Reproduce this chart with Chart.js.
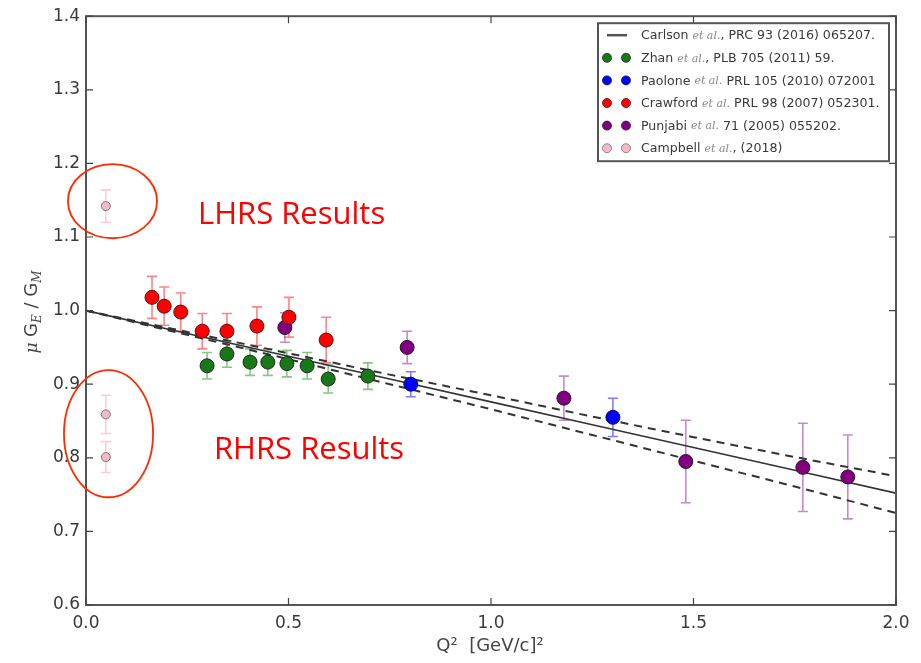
<!DOCTYPE html>
<html>
<head>
<meta charset="utf-8">
<script src="https://cdn.jsdelivr.net/npm/chart.js@4.4.1/dist/chart.umd.min.js"></script>
<style>
  body { margin: 0; background: #fff; }
  canvas { display: block; }
</style>
</head>
<body>
<canvas id="ffChart" width="921" height="663"></canvas>
<script>
//=============================
// DATA
//=============================

// Carlson et al. curve with its band
const curveQ2 = [0, 0.25, 0.5, 0.75, 1.0, 1.25, 1.5, 1.75, 2.0];
const carlsonMid = [1.0, 0.969, 0.938, 0.907, 0.876, 0.845, 0.814, 0.783, 0.752];
const carlsonHi = [1.0, 0.971, 0.942, 0.913, 0.885, 0.856, 0.828, 0.801, 0.775];
const carlsonLo = [1.0, 0.967, 0.934, 0.900, 0.866, 0.831, 0.796, 0.761, 0.725];

const zhanQ2 = [0.299, 0.348, 0.405, 0.449, 0.496, 0.546, 0.598, 0.696];
const zhanR = [0.925, 0.941, 0.930, 0.930, 0.928, 0.925, 0.907, 0.911];
const zhanErr = [0.018, 0.018, 0.018, 0.018, 0.018, 0.018, 0.019, 0.018];

const paoloneQ2 = [0.802, 1.301];
const paoloneR = [0.900, 0.855];
const paoloneErr = [0.017, 0.026];

const crawfordQ2 = [0.163, 0.193, 0.234, 0.287, 0.348, 0.422, 0.501, 0.593];
const crawfordR = [1.018, 1.006, 0.998, 0.972, 0.972, 0.979, 0.991, 0.960];
const crawfordErr = [0.0285, 0.026, 0.026, 0.024, 0.024, 0.026, 0.027, 0.031];

const punjabiQ2 = [0.491, 0.793, 1.180, 1.481, 1.770, 1.881];
const punjabiR = [0.977, 0.950, 0.881, 0.795, 0.787, 0.774];
const punjabiErr = [0.020, 0.022, 0.030, 0.056, 0.060, 0.057];

const campbellQ2 = [0.049, 0.049, 0.049];
const campbellR = [1.142, 0.859, 0.801];
const campbellErr = [0.022, 0.026, 0.021];

const xTicks = [0, 0.5, 1.0, 1.5, 2.0];
const yTicks = [0.6, 0.7, 0.8, 0.9, 1.0, 1.1, 1.2, 1.3, 1.4];

//=============================
// HELPERS
//=============================

function pts(xs, ys){
    return xs.map((x,i)=>({x:x, y:ys[i]}));
}

function pointSet(label, xs, ys, errs, fill, errColor, radius, edge){
    return {
        label: label,
        data: pts(xs, ys),
        errors: errs,
        errColor: errColor,
        backgroundColor: fill,
        borderColor: edge,
        borderWidth: 1,
        pointRadius: radius,
        pointHoverRadius: radius,
        showLine: false,
        order: 1
    };
}

function curveSet(label, ys, dash, width, hide){
    return {
        label: label,
        data: pts(curveQ2, ys),
        showLine: true,
        borderColor: "#333",
        borderWidth: width,
        borderDash: dash,
        pointRadius: 0,
        fill: false,
        order: 5,
        noLegend: hide
    };
}

//=============================
// PLUGINS
//=============================

// error bars, under the markers
const errorBars = {
    id: "errorBars",
    beforeDatasetsDraw(chart){
        const ctx = chart.ctx;
        const xs = chart.scales.x, ys = chart.scales.y;
        chart.data.datasets.forEach(ds=>{
            if(!ds.errors) return;
            ctx.save();
            ctx.strokeStyle = ds.errColor;
            ctx.lineWidth = 1.6;
            ds.data.forEach((p,i)=>{
                const px = xs.getPixelForValue(p.x);
                const top = ys.getPixelForValue(p.y + ds.errors[i]);
                const bot = ys.getPixelForValue(p.y - ds.errors[i]);
                ctx.beginPath();
                ctx.moveTo(px, top); ctx.lineTo(px, bot);
                ctx.moveTo(px-5, top); ctx.lineTo(px+5, top);
                ctx.moveTo(px-5, bot); ctx.lineTo(px+5, bot);
                ctx.stroke();
            });
            ctx.restore();
        });
    }
};

// frame, inward ticks, axis titles, legend, annotations
const decorations = {
    id: "decorations",
    afterDraw(chart){
        const ctx = chart.ctx;
        const a = chart.chartArea;
        const xs = chart.scales.x, ys = chart.scales.y;

        ctx.save();

        // frame
        ctx.strokeStyle = "#555";
        ctx.lineWidth = 2;
        ctx.strokeRect(a.left, a.top, a.right-a.left, a.bottom-a.top);

        // ticks pointing inside, all four sides
        ctx.lineWidth = 1.2;
        ctx.strokeStyle = "#444";
        ctx.beginPath();
        xTicks.forEach(v=>{
            const px = xs.getPixelForValue(v);
            ctx.moveTo(px, a.bottom); ctx.lineTo(px, a.bottom-7);
            ctx.moveTo(px, a.top); ctx.lineTo(px, a.top+7);
        });
        yTicks.forEach(v=>{
            const py = ys.getPixelForValue(v);
            ctx.moveTo(a.left, py); ctx.lineTo(a.left+7, py);
            ctx.moveTo(a.right, py); ctx.lineTo(a.right-7, py);
        });
        ctx.stroke();

        // x title
        ctx.fillStyle = "#444";
        ctx.textBaseline = "alphabetic";
        ctx.textAlign = "center";
        ctx.font = "18px 'DejaVu Sans'";
        ctx.fillText("Q\u00B2  [GeV/c]\u00B2", 490, 651);

        // y title, rotated, with subscripts
        ctx.save();
        ctx.translate(37, 312);
        ctx.rotate(-Math.PI/2);
        const parts = [
            {t:"\u03BC ", f:"italic 17px 'DejaVu Serif'", dy:0},
            {t:"G", f:"18px 'DejaVu Sans'", dy:0},
            {t:"E", f:"italic 12px 'DejaVu Serif'", dy:4},
            {t:" / G", f:"18px 'DejaVu Sans'", dy:0},
            {t:"M", f:"italic 12px 'DejaVu Serif'", dy:4}
        ];
        let total = 0;
        parts.forEach(p=>{ ctx.font = p.f; total += ctx.measureText(p.t).width; });
        let cx = -total/2;
        ctx.textAlign = "left";
        parts.forEach(p=>{
            ctx.font = p.f;
            ctx.fillText(p.t, cx, p.dy);
            cx += ctx.measureText(p.t).width;
        });
        ctx.restore();

        // legend box
        const lx = a.right - 298, ly = a.top + 7, lw = 291, lh = 138;
        ctx.fillStyle = "#fff";
        ctx.fillRect(lx, ly, lw, lh);
        ctx.strokeStyle = "#555";
        ctx.lineWidth = 2;
        ctx.strokeRect(lx, ly, lw, lh);

        const entries = chart.data.datasets.filter(d=>!d.noLegend);
        entries.forEach((ds,i)=>{
            const ry = ly + 12 + i*22.6;
            if(ds.showLine){
                ctx.strokeStyle = "#555";
                ctx.lineWidth = 2.5;
                ctx.beginPath();
                ctx.moveTo(lx+9, ry); ctx.lineTo(lx+29, ry);
                ctx.stroke();
            } else {
                [lx+9, lx+28].forEach(mx=>{
                    ctx.beginPath();
                    ctx.arc(mx, ry, 4.5, 0, Math.PI*2);
                    ctx.fillStyle = ds.backgroundColor;
                    ctx.fill();
                    ctx.strokeStyle = ds.borderColor;
                    ctx.lineWidth = 0.8;
                    ctx.stroke();
                });
            }
            // label with italic "et al."
            const idx = ds.label.indexOf(" et al.");
            const segs = idx < 0 ? [{t:ds.label, it:false}] : [
                {t:ds.label.slice(0, idx) + " ", it:false},
                {t:"et al.", it:true},
                {t:ds.label.slice(idx+7), it:false}
            ];
            let tx = lx + 43;
            ctx.textBaseline = "middle";
            ctx.textAlign = "left";
            segs.forEach(s=>{
                ctx.font = s.it ? "italic 11px 'DejaVu Serif'" : "12.6px 'DejaVu Sans'";
                ctx.fillStyle = s.it ? "#888" : "#3a3a3a";
                ctx.fillText(s.t, tx, ry + 1);
                tx += ctx.measureText(s.t).width;
            });
        });

        // annotations
        ctx.strokeStyle = "#ff2a00";
        ctx.lineWidth = 1.8;
        [[0.0654, 1.1486, 0.110, 0.0503], [0.0556, 0.8327, 0.110, 0.0863]].forEach(e=>{
            const ex = xs.getPixelForValue(e[0]);
            const ey = ys.getPixelForValue(e[1]);
            const rx = xs.getPixelForValue(e[0]+e[2]) - ex;
            const ry = ey - ys.getPixelForValue(e[1]+e[3]);
            ctx.beginPath();
            ctx.ellipse(ex, ey, rx, ry, 0, 0, Math.PI*2);
            ctx.stroke();
        });

        ctx.fillStyle = "#ff0000";
        ctx.font = "31px 'Open Sans'";
        ctx.textAlign = "left";
        ctx.textBaseline = "alphabetic";
        ctx.fillText("LHRS Results", xs.getPixelForValue(0.2765), ys.getPixelForValue(1.1174));
        ctx.fillText("RHRS Results", xs.getPixelForValue(0.316), ys.getPixelForValue(0.798));

        ctx.restore();
    }
};

//=============================
// CHART
//=============================

new Chart(document.getElementById("ffChart"), {

    type: "scatter",

    data: {
        datasets: [
            curveSet("Carlson et al., PRC 93 (2016) 065207.", carlsonMid, [], 1.6, false),
            pointSet("Zhan et al., PLB 705 (2011) 59.", zhanQ2, zhanR, zhanErr,
                "#187818", "rgba(40,150,40,0.55)", 7, "#1a2a1a"),
            pointSet("Paolone et al. PRL 105 (2010) 072001", paoloneQ2, paoloneR, paoloneErr,
                "#0000ff", "rgba(40,40,255,0.6)", 7, "#10104a"),
            pointSet("Crawford et al. PRL 98 (2007) 052301.", crawfordQ2, crawfordR, crawfordErr,
                "#ff0000", "rgba(255,50,50,0.6)", 7, "#5a1010"),
            pointSet("Punjabi et al. 71 (2005) 055202.", punjabiQ2, punjabiR, punjabiErr,
                "#800080", "rgba(160,60,170,0.6)", 7, "#2a102a"),
            pointSet("Campbell et al., (2018)", campbellQ2, campbellR, campbellErr,
                "#f6b8c6", "rgba(250,170,190,0.6)", 4.5, "#777"),
            curveSet("Carlson upper", carlsonHi, [8, 6], 2, true),
            curveSet("Carlson lower", carlsonLo, [8, 6], 2, true)
        ]
    },

    options: {
        responsive: false,
        animation: false,
        events: [],
        layout: {
            padding: {top: 16, right: 25, left: 0, bottom: 0}
        },
        plugins: {
            legend: {display: false},
            tooltip: {enabled: false}
        },
        scales: {
            x: {
                type: "linear",
                min: 0,
                max: 2,
                afterFit(scale){ scale.height = 58; },
                afterBuildTicks(scale){ scale.ticks = xTicks.map(v=>({value:v})); },
                grid: {display: false, drawTicks: false},
                border: {display: false},
                ticks: {
                    color: "#3a3a3a",
                    padding: 8,
                    font: {family: "'DejaVu Sans'", size: 17},
                    callback: v => v.toFixed(1)
                }
            },
            y: {
                type: "linear",
                min: 0.6,
                max: 1.4,
                afterFit(scale){ scale.width = 86; },
                afterBuildTicks(scale){ scale.ticks = yTicks.map(v=>({value:v})); },
                grid: {display: false, drawTicks: false},
                border: {display: false},
                ticks: {
                    color: "#3a3a3a",
                    padding: 6,
                    font: {family: "'DejaVu Sans'", size: 17},
                    callback: v => v.toFixed(1)
                }
            }
        }
    },

    plugins: [errorBars, decorations]

});
</script>
</body>
</html>
